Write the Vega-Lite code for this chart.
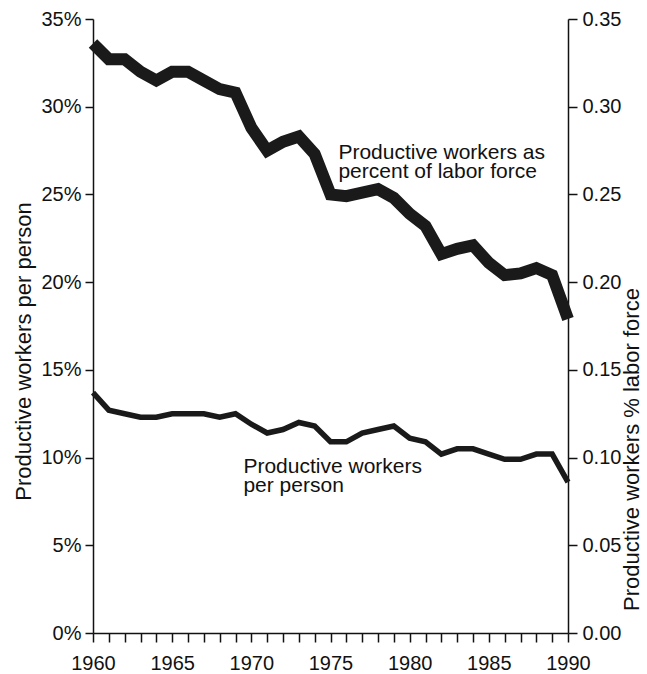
{
  "$schema": "https://vega.github.io/schema/vega-lite/v6.json",
  "width": 475,
  "height": 614,
  "autosize": {"type": "none"},
  "padding": {"left": 93, "top": 19, "right": 79, "bottom": 41},
  "background": "white",
  "config": {
    "view": {"stroke": null},
    "font": "Liberation Sans",
    "axis": {
      "grid": false,
      "domainColor": "#111",
      "tickColor": "#111",
      "labelColor": "#111",
      "titleColor": "#111",
      "labelFont": "Liberation Sans",
      "titleFont": "Liberation Sans",
      "labelFontSize": 20,
      "titleFontSize": 22,
      "titleFontWeight": "normal",
      "domainWidth": 1.5,
      "tickWidth": 1.5
    }
  },
  "datasets": {
    "series": [
      {"year": 1960, "labor": 0.336, "person": 0.137},
      {"year": 1961, "labor": 0.327, "person": 0.127},
      {"year": 1962, "labor": 0.327, "person": 0.125},
      {"year": 1963, "labor": 0.320, "person": 0.123},
      {"year": 1964, "labor": 0.315, "person": 0.123},
      {"year": 1965, "labor": 0.320, "person": 0.125},
      {"year": 1966, "labor": 0.320, "person": 0.125},
      {"year": 1967, "labor": 0.315, "person": 0.125},
      {"year": 1968, "labor": 0.310, "person": 0.123},
      {"year": 1969, "labor": 0.308, "person": 0.125},
      {"year": 1970, "labor": 0.288, "person": 0.119},
      {"year": 1971, "labor": 0.275, "person": 0.114},
      {"year": 1972, "labor": 0.280, "person": 0.116},
      {"year": 1973, "labor": 0.283, "person": 0.120},
      {"year": 1974, "labor": 0.273, "person": 0.118},
      {"year": 1975, "labor": 0.250, "person": 0.109},
      {"year": 1976, "labor": 0.249, "person": 0.109},
      {"year": 1977, "labor": 0.251, "person": 0.114},
      {"year": 1978, "labor": 0.253, "person": 0.116},
      {"year": 1979, "labor": 0.248, "person": 0.118},
      {"year": 1980, "labor": 0.239, "person": 0.111},
      {"year": 1981, "labor": 0.232, "person": 0.109},
      {"year": 1982, "labor": 0.216, "person": 0.102},
      {"year": 1983, "labor": 0.219, "person": 0.105},
      {"year": 1984, "labor": 0.221, "person": 0.105},
      {"year": 1985, "labor": 0.211, "person": 0.102},
      {"year": 1986, "labor": 0.204, "person": 0.099},
      {"year": 1987, "labor": 0.205, "person": 0.099},
      {"year": 1988, "labor": 0.208, "person": 0.102},
      {"year": 1989, "labor": 0.204, "person": 0.102},
      {"year": 1990, "labor": 0.179, "person": 0.086}
    ],
    "notes": [
      {"year": 1975.5, "value": 0.270, "label": "Productive workers as\npercent of labor force"},
      {"year": 1969.5, "value": 0.0914, "label": "Productive workers\nper person"}
    ]
  },
  "encoding": {
    "x": {
      "field": "year",
      "type": "quantitative",
      "scale": {"domain": [1960, 1990], "nice": false, "zero": false},
      "axis": {
        "title": null,
        "values": [1960,1961,1962,1963,1964,1965,1966,1967,1968,1969,1970,1971,1972,1973,1974,1975,1976,1977,1978,1979,1980,1981,1982,1983,1984,1985,1986,1987,1988,1989,1990],
        "labelExpr": "datum.value % 5 === 0 ? format(datum.value, 'd') : ''",
        "tickSize": 9,
        "labelPadding": 11,
        "labelFlush": false,
        "labelOverlap": false
      }
    }
  },
  "layer": [
    {
      "data": {"name": "series"},
      "mark": {"type": "line", "color": "#1a1a1a", "strokeWidth": 5.5, "strokeJoin": "miter"},
      "encoding": {
        "y": {
          "field": "person",
          "type": "quantitative",
          "scale": {"domain": [0, 0.35], "nice": false},
          "axis": {
            "orient": "left",
            "title": "Productive workers per person",
            "format": ".0%",
            "values": [0, 0.05, 0.1, 0.15, 0.2, 0.25, 0.3, 0.35],
            "tickSize": 8,
            "labelPadding": 4,
            "titlePadding": 5,
            "titleY": 332,
            "labelFlush": false
          }
        }
      }
    },
    {
      "data": {"name": "series"},
      "mark": {"type": "line", "color": "#1a1a1a", "strokeWidth": 12, "strokeJoin": "miter"},
      "encoding": {
        "y": {
          "field": "labor",
          "type": "quantitative",
          "scale": {"domain": [0, 0.35], "nice": false},
          "axis": {
            "orient": "right",
            "title": "Productive workers % labor force",
            "format": ".2f",
            "values": [0, 0.05, 0.1, 0.15, 0.2, 0.25, 0.3, 0.35],
            "tickSize": 9,
            "labelPadding": 5,
            "titleAngle": -90,
            "titleX": 63,
            "titleY": 430,
            "titleBaseline": "middle",
            "titleAlign": "center",
            "labelFlush": false
          }
        }
      }
    },
    {
      "data": {"name": "notes"},
      "mark": {"type": "text", "align": "left", "baseline": "alphabetic", "fontSize": 21, "lineBreak": "\n", "lineHeight": 19, "color": "#111", "font": "Liberation Sans"},
      "encoding": {
        "y": {"field": "value", "type": "quantitative", "scale": {"domain": [0, 0.35], "nice": false}, "axis": null},
        "text": {"field": "label"}
      }
    }
  ],
  "resolve": {"scale": {"y": "independent"}}
}
